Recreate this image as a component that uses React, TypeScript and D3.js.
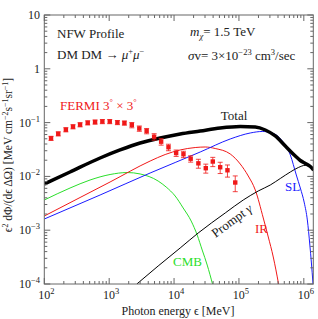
import React from 'react';
import * as d3 from 'd3';

// ---- Data ----
const FERMI_E = [127,164,215,277,356,467,606,785,1021,1339,1717,2233,2913,3777,4930,6324,8204,10770,13960,18030,23710,30830,39540,51400,66530,87700];
const FERMI_V = [0.0511,0.0619,0.0738,0.0839,0.0914,0.0991,0.1026,0.1048,0.1048,0.1005,0.0983,0.0902,0.0777,0.0698,0.0547,0.0442,0.0348,0.0272,0.0258,0.0213,0.0175,0.0142,0.0189,0.0148,0.0130,0.0077];
const FERMI_ERR = [0.0045,0.0055,0.0066,0.0075,0.0081,0.0088,0.0091,0.0093,0.0093,0.0089,0.0087,0.0102,0.0088,0.0079,0.0075,0.0061,0.0048,0.0037,0.0035,0.0029,0.0033,0.0027,0.0037,0.0035,0.0033,0.0025];

const TOTAL_E = [100,249,724,1472,2998,6105,12420,25290,51420,104700,178600,254700,363300,518600,739600,883000,1055000,1259000,1416000];
const TOTAL_V = [0.00722,0.01208,0.02198,0.0310,0.0418,0.0518,0.0614,0.0698,0.0794,0.0847,0.0828,0.0728,0.0564,0.0367,0.0239,0.01976,0.01738,0.01528,0.01315];

const SL_E = [100,724,4277,25290,73450,149300,229000,326500,465600,619300,765900,883000,1018000,1133000,1239000,1306000,1386000];
const SL_V = [0.001614,0.00451,0.01156,0.0284,0.0496,0.0641,0.0684,0.0641,0.0455,0.0250,0.01062,0.00608,0.00321,0.00155,0.00053,0.000256,0.0001];

const IR_E = [100,355.6,1032,4277,7290,12420,21170,30200,43060,73450,104700,139200,178600,237100,283300,338100,408300];
const IR_V = [0.001836,0.00405,0.00787,0.0193,0.0255,0.0310,0.0344,0.0352,0.0330,0.0261,0.0170,0.01017,0.00559,0.001686,0.000748,0.000318,0.0001];

const CMB_E = [100,249.3,507.3,1032,1889,2998,5686,7551,10400,13810,18360,22710,27150,32430,39150];
const CMB_V = [0.00364,0.00608,0.00857,0.01084,0.0118,0.0111,0.0082,0.00635,0.00432,0.00259,0.00148,0.000815,0.000428,0.000225,0.0001];

const PROMPT_E = [2667,5686,12420,23550,61460,116500,198500,304100,433700,619300,822600,1055000,1259000,1416000];
const PROMPT_V = [0.0001,0.000216,0.000467,0.000887,0.00209,0.00364,0.00536,0.00692,0.00914,0.01208,0.01462,0.01607,0.01528,0.01315];

const X_TICKS = [100,1000,10000,100000,1000000];
const X_TICK_EXP = ['2','3','4','5','6'];
const Y_TICKS = [10,1,0.1,0.01,0.001,0.0001];
const Y_TICK_EXP = ['', '', '−1','−2','−3','−4'];

// ---- Layout ----
const W = 318, H = 319;
const L = 44.3, R = 313.3, T = 15, B = 284;
const FONT = "'Liberation Serif', 'Times New Roman', 'DejaVu Serif', serif";

const x = d3.scaleLog().domain([100, 1.4e6]).range([L, R]);
const y = d3.scaleLog().domain([1e-4, 10]).range([B, T]);

const line = d3.line<[number, number]>()
  .x(d => x(d[0]))
  .y(d => y(d[1]))
  .curve(d3.curveMonotoneX);

const zip = (a: number[], b: number[]): [number, number][] => a.map((v, i) => [v, b[i]]);

function minorTicks(lo: number, hi: number) {
  const out: number[] = [];
  for (let e = Math.floor(Math.log10(lo)); e <= Math.ceil(Math.log10(hi)); e++) {
    for (let k = 2; k <= 9; k++) {
      const v = k * Math.pow(10, e);
      if (v > lo && v < hi) out.push(v);
    }
  }
  return out;
}

export default function App() {
  const xMin = minorTicks(100, 1.4e6);
  const yMin = minorTicks(1e-4, 10);
  const frame = '#666';
  const red = '#f01818';
  const blue = '#1a1aff';
  const green = '#2ade2a';
  return (
    <svg width={W} height={H} style={{ position: 'absolute', left: 0, top: 0, background: '#fff', fontFamily: FONT }}>
      <defs>
        <clipPath id="plotclip">
          <rect x={L} y={T} width={R - L} height={B - T} />
        </clipPath>
      </defs>
      <rect x={0} y={0} width={W} height={H} fill="#fff" />

      {/* curves */}
      <g clipPath="url(#plotclip)" fill="none">
        <path d={line(zip(CMB_E, CMB_V)) || ''} stroke={green} strokeWidth={1} />
        <path d={line(zip(IR_E, IR_V)) || ''} stroke={red} strokeWidth={1} />
        <path d={line(zip(SL_E, SL_V)) || ''} stroke={blue} strokeWidth={1} />
        <path d={line(zip(PROMPT_E, PROMPT_V)) || ''} stroke="#000" strokeWidth={1} />
        <path d={line(zip(TOTAL_E, TOTAL_V)) || ''} stroke="#000" strokeWidth={3.5} />
      </g>

      {/* FERMI data */}
      <g>
        {FERMI_E.map((e, i) => {
          const v = FERMI_V[i], s = FERMI_ERR[i];
          const cx = x(e);
          const y1 = y(v + s), y0 = y(v - s);
          return (
            <g key={i}>
              <line x1={cx} x2={cx} y1={y1} y2={y0} stroke={red} strokeWidth={1} opacity={0.8} />
              <line x1={cx - 2.5} x2={cx + 2.5} y1={y1} y2={y1} stroke={red} strokeWidth={1} opacity={0.8} />
              <line x1={cx - 2.5} x2={cx + 2.5} y1={y0} y2={y0} stroke={red} strokeWidth={1} opacity={0.8} />
              <rect x={cx - 2.2} y={y(v) - 2.2} width={4.4} height={4.4} fill={red} />
            </g>
          );
        })}
      </g>

      {/* frame and ticks */}
      <g stroke={frame} strokeWidth={1}>
        <rect x={L} y={T} width={R - L} height={B - T} fill="none" />
        {X_TICKS.map(t => (
          <g key={'xt' + t}>
            <line x1={x(t)} x2={x(t)} y1={B} y2={B - 6} />
            <line x1={x(t)} x2={x(t)} y1={T} y2={T + 6} />
          </g>
        ))}
        {xMin.map(t => (
          <g key={'xm' + t}>
            <line x1={x(t)} x2={x(t)} y1={B} y2={B - 3} />
            <line x1={x(t)} x2={x(t)} y1={T} y2={T + 3} />
          </g>
        ))}
        {Y_TICKS.map(t => (
          <g key={'yt' + t}>
            <line x1={L} x2={L + 6} y1={y(t)} y2={y(t)} />
            <line x1={R} x2={R - 6} y1={y(t)} y2={y(t)} />
          </g>
        ))}
        {yMin.map(t => (
          <g key={'ym' + t}>
            <line x1={L} x2={L + 3} y1={y(t)} y2={y(t)} />
            <line x1={R} x2={R - 3} y1={y(t)} y2={y(t)} />
          </g>
        ))}
      </g>

      {/* tick labels */}
      <g fontSize={12} fill="#222">
        {X_TICKS.map((t, i) => (
          <text key={'xl' + t} x={x(t) + 2} y={299} textAnchor="middle" style={{ fontFamily: FONT }}>
            10<tspan dy={-5} fontSize={8.5}>{X_TICK_EXP[i]}</tspan>
          </text>
        ))}
        {Y_TICKS.map((t, i) => (
          <text key={'yl' + t} x={40} y={y(t) + 4} textAnchor="end" style={{ fontFamily: FONT }}>
            {t === 1 ? '1' : '10'}
            {Y_TICK_EXP[i] ? <tspan dy={-5} fontSize={8.5}>{Y_TICK_EXP[i]}</tspan> : null}
          </text>
        ))}
      </g>

      {/* axis titles */}
      <text x={178} y={315} fontSize={12} textAnchor="middle" fill="#222" style={{ fontFamily: FONT }}>Photon energy ϵ [MeV]</text>
      <text transform="translate(12,155) rotate(-90)" fontSize={11.5} textAnchor="middle" fill="#222" style={{ fontFamily: FONT }}>
        ϵ<tspan dy={-4} fontSize={8}>2</tspan><tspan dy={4}> dΦ/(dϵ ΔΩ) [MeV cm</tspan>
        <tspan dy={-4} fontSize={8}>−2</tspan><tspan dy={4}>s</tspan>
        <tspan dy={-4} fontSize={8}>−1</tspan><tspan dy={4}>sr</tspan>
        <tspan dy={-4} fontSize={8}>−1</tspan><tspan dy={4}>]</tspan>
      </text>

      {/* annotations */}
      <g fontSize={13} fill="#222" style={{ fontFamily: FONT }}>
        <text x={57} y={38}>NFW Profile</text>
        <text x={57} y={59}>DM DM → <tspan fontStyle="italic">μ</tspan><tspan dy={-5} fontSize={8.5}>+</tspan><tspan dy={5} fontStyle="italic">μ</tspan><tspan dy={-5} fontSize={8.5}>−</tspan></text>
        <text x={190} y={36}><tspan fontStyle="italic">m</tspan><tspan dy={3} fontSize={8.5} fontStyle="italic">χ</tspan><tspan dy={-3}>= 1.5 TeV</tspan></text>
        <text x={188} y={60}><tspan fontStyle="italic">σ</tspan>v= 3×10<tspan dy={-5} fontSize={8.5}>−23</tspan><tspan dy={5}> cm</tspan><tspan dy={-5} fontSize={8.5}>3</tspan><tspan dy={5}>/sec</tspan></text>
        <text x={234} y={120} textAnchor="middle">Total</text>
        <text x={232} y={225} textAnchor="middle" transform="rotate(-36 232 221)">Prompt <tspan fontStyle="italic">γ</tspan></text>
        <text x={60} y={110} fill={red}>FERMI 3<tspan dy={-5} fontSize={8.5}>°</tspan><tspan dy={5}> × 3</tspan><tspan dy={-5} fontSize={8.5}>°</tspan></text>
        <text x={285} y={191} fill={blue}>SL</text>
        <text x={255} y={233} fill={red}>IR</text>
        <text x={173} y={266} fill={green}>CMB</text>
      </g>
    </svg>
  );
}
